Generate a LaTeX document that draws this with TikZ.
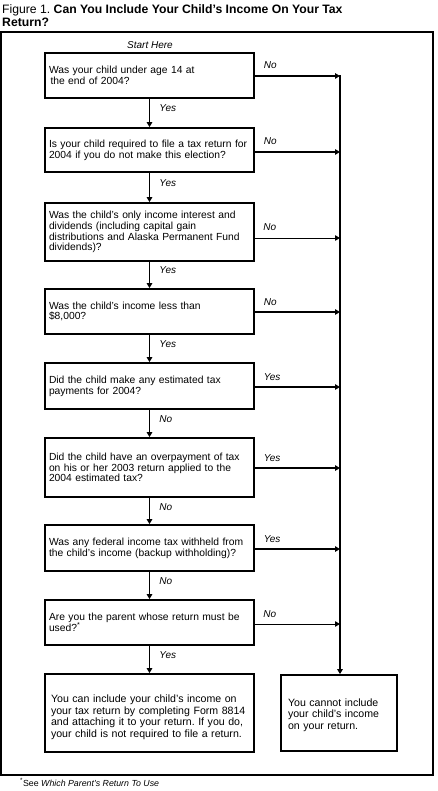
\documentclass[tikz,border=0pt]{standalone}
\usepackage{fontspec}
\setmainfont{Liberation Sans}
\usetikzlibrary{arrows.meta,calc}
\frenchspacing
\newcommand\nb[1]{\mbox{#1}}
\begin{document}
\begin{tikzpicture}[x=1pt,y=-1pt,
  qbox/.style={draw,line width=1.8pt,minimum width=209pt,text width=201pt,inner xsep=4pt,align=left,
    font=\fontsize{10.3}{10.8}\selectfont\frenchspacing},
  ebox/.style={draw,line width=1.8pt,align=left,font=\fontsize{10.6}{11.4}\selectfont\frenchspacing},
  arr/.style={line width=1.8pt,-{Triangle[length=5pt,width=5.5pt]}},
  thin arr/.style={line width=0.9pt,-{Triangle[length=5pt,width=5.5pt]}},
  lbl/.style={font=\fontsize{10}{11}\selectfont\itshape,inner sep=0pt},
]
\useasboundingbox (0,0) rectangle (437,791);
% title
\node[anchor=north west,align=left,inner sep=0pt,font=\fontsize{12.2}{13.4}\selectfont] (title) at (2,4)
  {Figure 1. \textbf{Can You Include Your Child’s Income On Your Tax}\\\textbf{Return?}};
% frame
\draw[line width=1.6pt] (1,32) rectangle (433,775);
\node[lbl] (start) at (150,45) {Start Here};
% boxes
\node[qbox,minimum height=45pt] (b1) at (149.5,75.5) {\nb{Was your child under age 14 at}\\\nb{\hspace*{1.5pt}the end of 2004?}};
\node[qbox,minimum height=44pt] (b2) at (149.5,150) {\nb{Is your child required to file a tax return for}\\\nb{2004 if you do not make this election?}};
\node[qbox,minimum height=58pt] (b3) at (149.5,232) {\nb{Was the child’s only income interest and}\\\nb{dividends (including capital gain}\\\nb{distributions and Alaska Permanent Fund}\\\nb{dividends)?}};
\node[qbox,minimum height=45pt] (b4) at (149.5,311.5) {\nb{Was the child’s income less than}\\\nb{\$8,000?}};
\node[qbox,minimum height=46pt] (b5) at (149.5,386) {\nb{Did the child make any estimated tax}\\\nb{payments for 2004?}};
\node[qbox,minimum height=59pt] (b6) at (149.5,467.5) {\nb{Did the child have an overpayment of tax}\\\nb{on his or her 2003 return applied to the}\\\nb{2004 estimated tax?}};
\node[qbox,minimum height=46pt] (b7) at (149.5,548) {\nb{Was any federal income tax withheld from}\\\nb{the child’s income (backup withholding)?}};
\node[qbox,minimum height=45pt] (b8) at (149.5,622.5) {\nb{Are you the parent whose return must be}\\\nb{used?\textsuperscript{*}}};
\node[ebox,inner xsep=6pt,minimum width=209pt,text width=197pt,minimum height=78pt] (b9) at (149.5,713) {\nb{\rule{0pt}{16pt}You can include your child’s income on}\\\nb{your tax return by completing Form 8814}\\\nb{and attaching it to your return. If you do,}\\\nb{your child is not required to file a return.}};
\node[ebox,inner xsep=7pt,minimum width=116pt,text width=102pt,minimum height=76pt] (b10) at (339,713) {\nb{\rule{0pt}{12pt}You cannot include}\\\nb{your child’s income}\\\nb{on your return.}};
% points on the collecting line
\coordinate (t1) at (340,76);
\coordinate (t2) at (340,152);
\coordinate (t3) at (340,238);
\coordinate (t4) at (340,312);
\coordinate (t5) at (340,387);
\coordinate (t6) at (340,468);
\coordinate (t7) at (340,549);
\coordinate (t8) at (340,624);
\draw[line width=1.8pt] (340,75.1) -- (t8);
\draw[arr] (t8) -- (t8 |- b10.north);
% side arrows
\draw[arr] (b1.east |- t1) -- (t1) node[lbl,pos=0,anchor=base west,xshift=8pt,yshift=7pt] {No};
\draw[arr] (b2.east |- t2) -- (t2) node[lbl,pos=0,anchor=base west,xshift=8pt,yshift=7pt] {No};
\draw[thin arr] (b3.east |- t3) -- (t3) node[lbl,pos=0,anchor=base west,xshift=8pt,yshift=7pt] {No};
\draw[arr] (b4.east |- t4) -- (t4) node[lbl,pos=0,anchor=base west,xshift=8pt,yshift=7pt] {No};
\draw[arr] (b5.east |- t5) -- (t5) node[lbl,pos=0,anchor=base west,xshift=8pt,yshift=7pt] {Yes};
\draw[arr] (b6.east |- t6) -- (t6) node[lbl,pos=0,anchor=base west,xshift=8pt,yshift=7pt] {Yes};
\draw[arr] (b7.east |- t7) -- (t7) node[lbl,pos=0,anchor=base west,xshift=8pt,yshift=7pt] {Yes};
\draw[thin arr] (b8.east |- t8) -- (t8) node[lbl,pos=0,anchor=base west,xshift=8pt,yshift=7pt] {No};
% down arrows
\draw[arr] (b1.south) -- (b2.north) node[lbl,pos=0,anchor=base west,xshift=9pt,yshift=-13pt] {Yes};
\draw[arr] (b2.south) -- (b3.north) node[lbl,pos=0,anchor=base west,xshift=9pt,yshift=-14pt] {Yes};
\draw[arr] (b3.south) -- (b4.north) node[lbl,pos=0,anchor=base west,xshift=9pt,yshift=-12pt] {Yes};
\draw[arr] (b4.south) -- (b5.north) node[lbl,pos=0,anchor=base west,xshift=9pt,yshift=-13pt] {Yes};
\draw[arr] (b5.south) -- (b6.north) node[lbl,pos=0,anchor=base west,xshift=9pt,yshift=-13pt] {No};
\draw[arr] (b6.south) -- (b7.north) node[lbl,pos=0,anchor=base west,xshift=9pt,yshift=-13pt] {No};
\draw[arr] (b7.south) -- (b8.north) node[lbl,pos=0,anchor=base west,xshift=9pt,yshift=-13pt] {No};
\draw[arr] (b8.south) -- (b9.north) node[lbl,pos=0,anchor=base west,xshift=9pt,yshift=-13pt] {Yes};
% footnote
\node[anchor=base west,inner sep=0pt,font=\fontsize{8.8}{9}\selectfont] (fn) at (20,786) {\textsuperscript{*}See \textit{Which Parent’s Return To Use}};
\end{tikzpicture}
\end{document}
